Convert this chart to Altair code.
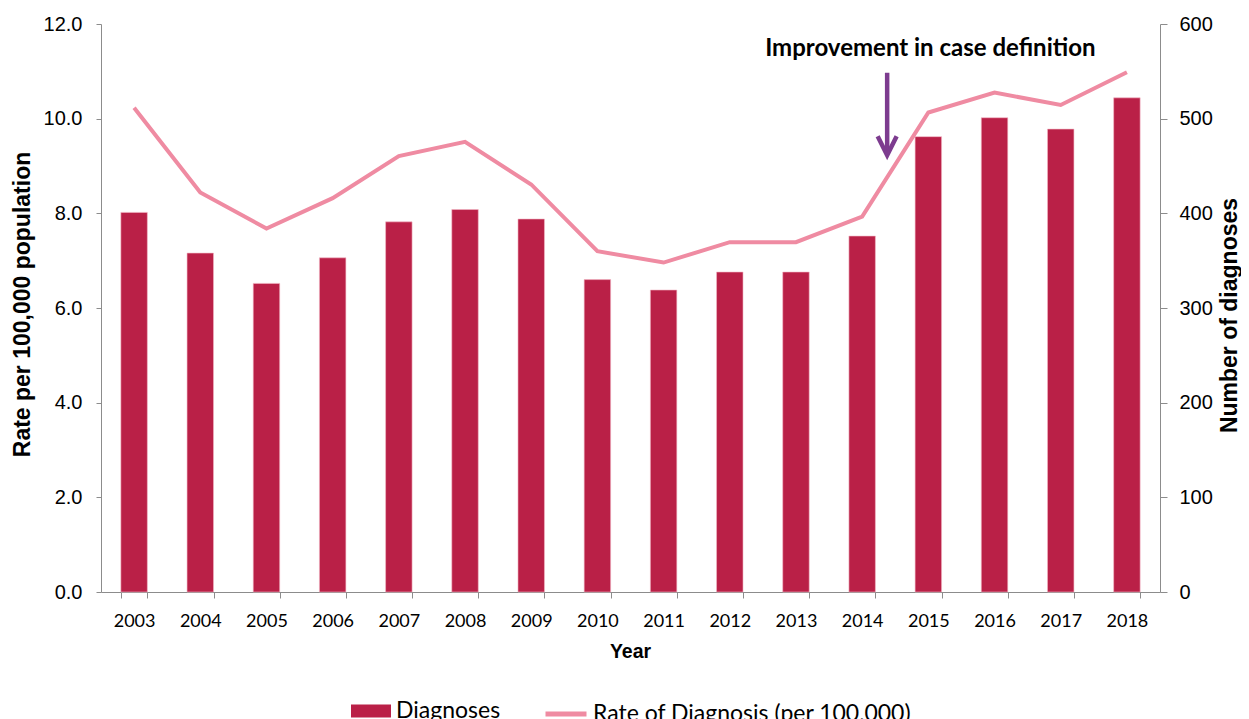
import altair as alt
import pandas as pd

years = [str(y) for y in range(2003, 2019)]
diagnoses = [401, 358, 326, 353, 391, 404, 394, 330, 319, 338, 338, 376, 481, 501, 489, 522]
rates = [10.23, 8.44, 7.68, 8.32, 9.21, 9.51, 8.61, 7.20, 6.96, 7.39, 7.39, 7.93, 10.13, 10.55, 10.29, 10.98]

bar_series = ["Diagnoses"]
line_series = ["Rate of Diagnosis (per 100,000)"]

annot_text = ["Improvement in case definition"]
annot_year = ["2015"]
annot_rate = [11.47]
arrow_year = ["2014"]
arrow_top = [10.97]
arrow_end = [9.30]
arrow_head = [9.43]

BAR = "#BA2047"
LINE = "#EF8BA2"
PURPLE = "#7D3C8F"

df = pd.DataFrame({
    "year": years,
    "diagnoses": diagnoses,
    "rate": rates,
    "bs": bar_series * len(years),
    "ls": line_series * len(years),
})
ann = pd.DataFrame({"year": annot_year, "rate": annot_rate, "text": annot_text})
arr = pd.DataFrame({"year": arrow_year, "top": arrow_top, "end": arrow_end, "head": arrow_head})

xscale = alt.Scale(domain=years, paddingInner=0.6, paddingOuter=0.3)
xaxis = alt.Axis(
    title="Year", labelAngle=0, tickBand="extent", tickSize=6,
    labelFont="Lato", labelFontSize=18, labelColor="black",
    labelBaseline="alphabetic", labelPadding=28,
    titleFont="Liberation Sans", titleFontSize=19.5, titleFontWeight="bold",
    titleColor="black", titleX=529, titleY=65, titleBaseline="alphabetic",
    domainColor="#8c8c8c", tickColor="#8c8c8c", grid=False,
)
x = alt.X("year:O", scale=xscale, axis=xaxis)

rate_scale = alt.Scale(domain=[0, 12], nice=False, zero=True)
diag_scale = alt.Scale(domain=[0, 600], nice=False, zero=True)

bars = alt.Chart(df).mark_bar(stroke="#F3B9C6", strokeWidth=0.6).encode(
    x=x,
    y=alt.Y("diagnoses:Q", scale=diag_scale,
            axis=alt.Axis(orient="right", title="Number of diagnoses",
                          values=[0, 100, 200, 300, 400, 500, 600], format="d",
                          tickSize=7, labelPadding=12,
                          labelFont="Liberation Sans", labelFontSize=20, labelColor="black",
                          titleFont="Liberation Sans", titleFontSize=23, titleFontWeight="bold",
                          titleColor="black", titleAngle=270, titleX=76, titleY=291,
                          titleBaseline="alphabetic", titleAlign="center",
                          domainColor="#8c8c8c", tickColor="#8c8c8c", grid=False)),
    color=alt.Color("bs:N", scale=alt.Scale(domain=bar_series, range=[BAR]),
                    legend=alt.Legend(title=None, orient="none", legendX=250, legendY=667,
                                      symbolType="M-1,-0.33H1V0.33H-1Z", symbolSize=1600,
                                      symbolStrokeWidth=0, labelFont="Lato", labelFontSize=23,
                                      labelColor="black", labelOffset=5, labelLimit=600)),
)

line = alt.Chart(df).mark_line(strokeWidth=4).encode(
    x=x,
    y=alt.Y("rate:Q", scale=rate_scale,
            axis=alt.Axis(orient="left", title="Rate per 100,000 population",
                          values=[0, 2, 4, 6, 8, 10, 12], format=".1f",
                          tickSize=5, labelPadding=14,
                          labelFont="Liberation Sans", labelFontSize=20, labelColor="black",
                          titleFont="Liberation Sans", titleFontSize=23, titleFontWeight="bold",
                          titleColor="black", titleAngle=270, titleX=-72, titleY=280,
                          titleBaseline="alphabetic", titleAlign="center",
                          domainColor="#8c8c8c", tickColor="#8c8c8c", grid=False)),
    stroke=alt.Stroke("ls:N", scale=alt.Scale(domain=line_series, range=[LINE]),
                      legend=alt.Legend(title=None, orient="none", legendX=442, legendY=667,
                                        symbolType="stroke", symbolSize=1681,
                                        symbolStrokeWidth=5, labelFont="Lato", labelFontSize=23,
                                        labelColor="black", labelOffset=4, labelLimit=600)),
)

shaft = alt.Chart(arr).mark_rule(color=PURPLE, strokeWidth=4.5, xOffset=25).encode(
    x=alt.X("year:O", scale=xscale),
    y=alt.Y("top:Q", scale=rate_scale),
    y2="end:Q",
)
head = alt.Chart(arr).mark_point(
    shape="M-1,-1L0,1L1,-1", size=361, filled=False, stroke=PURPLE,
    strokeWidth=4.5, opacity=1, xOffset=25, strokeJoin="miter",
).encode(
    x=alt.X("year:O", scale=xscale),
    y=alt.Y("head:Q", scale=rate_scale),
)
label = alt.Chart(ann).mark_text(
    font="Lato", fontSize=24, fontWeight="bold", color="black", dx=2, baseline="middle",
).encode(
    x=alt.X("year:O", scale=xscale),
    y=alt.Y("rate:Q", scale=rate_scale),
    text="text:N",
)

rate_layer = alt.layer(line, shaft, head, label)

chart = alt.layer(bars, rate_layer).resolve_scale(
    y="independent", color="independent"
).properties(
    width=1059, height=568,
    autosize=alt.AutoSizeParams(type="none"),
    padding={"left": 93, "top": 16, "right": 81, "bottom": 127},
).configure_view(stroke=None)

chart.save("out.html", embed_options={"renderer": "svg", "actions": False})
